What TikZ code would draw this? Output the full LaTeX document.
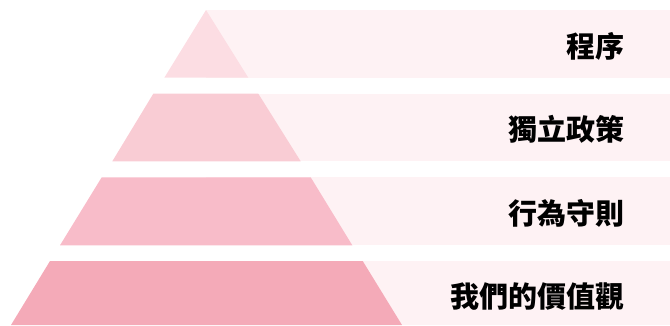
\documentclass[tikz,border=0pt]{standalone}
\usepackage{fontspec}
\newfontfamily\cjk{Noto Sans CJK TC}
\definecolor{barc}{RGB}{254,242,244}
\definecolor{lone}{RGB}{252,221,227}
\definecolor{ltwo}{RGB}{249,204,212}
\definecolor{lthree}{RGB}{248,188,201}
\definecolor{lfour}{RGB}{244,170,184}
\tikzset{
  lbl/.style={anchor=east, inner sep=0pt, font=\cjk\bfseries\fontsize{29}{29}\selectfont, text=black},
}
\begin{document}
\begin{tikzpicture}[x=1pt,y=-1pt]
\useasboundingbox (0,0) rectangle (670,325);
% bars
\fill[barc] (206,10) rectangle (670,78);
\fill[barc] (206,93.7) rectangle (670,161.3);
\fill[barc] (206,177.3) rectangle (670,245.3);
\fill[barc] (206,261) rectangle (670,325);
% layers
\fill[lone] (206,10) -- (248.3,77.7) -- (164.3,77.7) -- cycle;
\fill[ltwo] (153.3,93.7) -- (258.3,93.7) -- (300.7,161.3) -- (112.3,161.3) -- cycle;
\fill[lthree] (101.7,177.3) -- (310.7,177.3) -- (352.3,245.3) -- (60,245.3) -- cycle;
\fill[lfour] (50,261) -- (362.7,261) -- (402,325) -- (11,325) -- cycle;
% labels
\node[lbl] (t1) at (625,46) {程序};
\node[lbl] (t2) at (625,129) {獨立政策};
\node[lbl] (t3) at (625,213) {行為守則};
\node[lbl] (t4) at (625,296.5) {我們的價值觀};
\end{tikzpicture}
\end{document}
